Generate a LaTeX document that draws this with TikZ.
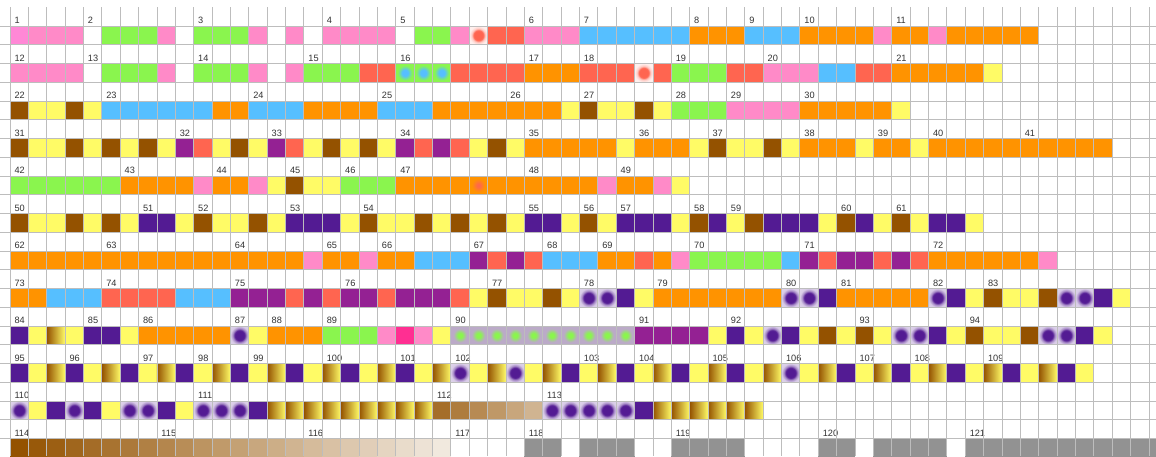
\documentclass[tikz,border=0pt]{standalone}
\usepackage{fontspec}
\setmainfont{Liberation Sans}
\definecolor{cpink}{HTML}{FF8AC8}
\definecolor{cpinkz}{HTML}{FF88D6}
\definecolor{cgreen}{HTML}{8AF54E}
\definecolor{cred}{HTML}{FF6550}
\definecolor{cblue}{HTML}{56BFFF}
\definecolor{corange}{HTML}{FF9300}
\definecolor{cyellow}{HTML}{FFFB66}
\definecolor{cbrown}{HTML}{945200}
\definecolor{cpurple}{HTML}{942193}
\definecolor{cindigo}{HTML}{531B93}
\definecolor{cgray}{HTML}{929292}
\definecolor{chot}{HTML}{FF2F92}
\definecolor{clav}{HTML}{BBAAC8}
\definecolor{ccream}{HTML}{F4EEE6}
\definecolor{gridc}{HTML}{BDBDBD}
\definecolor{labc}{HTML}{333333}
\pgfdeclareradialshading{shRd}{\pgfpoint{0bp}{0bp}}{color(0bp)=(cred); color(13bp)=(cred); color(18bp)=(cred!35!white); color(25bp)=(cred!10!white); color(50bp)=(cred!10!white)}
\pgfdeclareradialshading{shBd}{\pgfpoint{0bp}{0bp}}{color(0bp)=(cblue); color(8bp)=(cblue); color(20bp)=(cgreen); color(50bp)=(cgreen)}
\pgfdeclareradialshading{shOd}{\pgfpoint{0bp}{0bp}}{color(0bp)=(cred); color(5bp)=(cred!85!corange); color(18bp)=(corange); color(50bp)=(corange)}
\pgfdeclareradialshading{shId}{\pgfpoint{0bp}{0bp}}{color(0bp)=(cindigo); color(13bp)=(cindigo); color(19bp)=(cindigo!50!white); color(25bp)=(cindigo!22!white); color(50bp)=(cindigo!15!white)}
\pgfdeclareradialshading{shLd}{\pgfpoint{0bp}{0bp}}{color(0bp)=(cgreen); color(6bp)=(cgreen); color(18bp)=(clav); color(50bp)=(clav)}
\tikzset{
  cW/.style={},
  cP/.style={fill=cpink}, cPz/.style={fill=cpinkz},
  cG/.style={fill=cgreen}, cR/.style={fill=cred},
  cB/.style={fill=cblue}, cO/.style={fill=corange},
  cY/.style={fill=cyellow}, cBr/.style={fill=cbrown},
  cPu/.style={fill=cpurple}, cI/.style={fill=cindigo},
  cGr/.style={fill=cgray}, cH/.style={fill=chot},
  cRd/.style={shading=shRd}, cBd/.style={shading=shBd},
  cOd/.style={shading=shOd}, cId/.style={shading=shId},
  cLd/.style={shading=shLd},
  cAu/.style={left color=cbrown, right color=cyellow},
  labs/.style={anchor=base west, inner sep=0pt, text=labc, font=\fontsize{9.2}{10}\selectfont},
  gridline/.style={draw=gridc, line width=0.9pt}
}
\newcommand\cellrow[2]{%
  \foreach \s [count=\c from 0] in {#2} {
    \path[c\s] ({10+18.37*\c},{26+37.5*#1}) rectangle ({10+18.37*(\c+1)},{26+37.5*#1+18.75});
  }}
\newcommand\labrow[2]{%
  \foreach \k/\t in {#2} {
    \node[labs, name=n\t] at ({10+18.37*\k+4.3},{26+37.5*#1-2.3}) {\t};
  }}
\begin{document}
\begin{tikzpicture}[x=1pt,y=-1pt]
\useasboundingbox (0,0) rectangle (1156,456);
\fill[white] (0,0) rectangle (1156,456);
\cellrow{0}{Pz,P,P,P,W,G,G,G,P,W,G,G,G,P,W,P,W,P,P,P,P,W,G,G,P,Rd,R,R,P,P,P,B,B,B,B,B,B,O,O,O,B,B,B,O,O,O,O,P,O,O,P,O,O,O,O,O}
\cellrow{1}{P,P,P,P,W,G,G,G,P,W,G,G,G,P,W,P,G,G,G,R,R,Bd,Bd,Bd,R,R,R,R,O,O,O,R,R,R,Rd,R,G,G,G,R,R,P,P,P,B,B,R,R,O,O,O,O,O,Y}
\cellrow{2}{Br,Y,Y,Br,Y,B,B,B,B,B,B,O,O,B,B,B,O,O,O,O,B,B,B,O,O,O,O,O,O,O,Y,Br,Y,Y,Br,Y,G,G,G,P,P,P,P,O,O,O,O,O,Y}
\cellrow{3}{Br,Y,Y,Br,Y,Br,Y,Br,Y,Pu,R,Y,Br,Y,Pu,R,Y,Br,Y,Br,Y,Pu,R,Pu,R,Y,Br,Y,O,O,O,O,O,Y,O,O,O,Y,Br,Y,Y,Br,Y,O,O,O,Y,O,O,Y,O,O,O,O,O,O,O,O,O,O}
\cellrow{4}{G,G,G,G,G,G,O,O,O,O,P,O,O,P,Y,Br,Y,Y,G,G,G,O,O,O,O,Od,O,O,O,O,O,O,P,O,O,P,Y}
\cellrow{5}{Br,Y,Y,Br,Y,Br,Y,I,I,Y,Br,Y,Y,Br,Y,I,I,I,Y,Br,Y,Y,Br,Y,Br,Y,Br,Y,I,I,Y,Br,Y,I,I,I,Y,Br,I,Y,Br,I,I,I,Y,Br,I,Y,Br,Y,I,I,Y}
\cellrow{6}{O,O,O,O,O,O,O,O,O,O,O,O,O,O,O,O,P,O,O,P,O,O,B,B,B,Pu,R,Pu,R,B,B,B,O,O,R,O,P,G,G,G,G,G,B,Pu,R,Pu,Pu,R,Pu,R,O,O,O,O,O,O,P}
\cellrow{7}{O,O,B,B,B,R,R,R,R,B,B,B,Pu,Pu,Pu,R,Pu,R,Pu,Pu,R,Pu,Pu,Pu,R,Y,Br,Y,Y,Br,Y,Id,Id,I,Y,O,O,O,O,O,O,O,Id,Id,I,O,O,O,O,O,Id,I,Y,Br,Y,Y,Br,Id,Id,I,Y}
\cellrow{8}{I,Y,Au,Y,I,I,Y,O,O,O,O,O,Id,Y,O,O,O,G,G,G,P,H,P,Y,Ld,Ld,Ld,Ld,Ld,Ld,Ld,Ld,Ld,Ld,Pu,Pu,Pu,Pu,Y,I,Y,Id,I,Y,Br,Y,Br,Y,Id,Id,I,Y,Br,Y,Y,Br,Id,Id,I,Y}
\cellrow{9}{I,Y,Au,I,Y,Au,I,Y,Au,I,Y,Au,I,Y,Au,I,Y,Au,I,Y,Au,I,Y,Au,Id,Y,Au,Id,Y,Au,I,Y,Au,I,Y,Au,I,Y,Au,I,Y,Au,Id,Y,Au,I,Y,Au,I,Y,Au,I,Y,Au,I,Y,Au,I,Y}
\cellrow{10}{Id,Y,I,Id,I,Y,Id,Id,I,Y,Id,Id,Id,I,Au,Au,Au,Au,Au,Au,Au,Au,Au,W,W,W,W,W,W,Id,Id,Id,Id,Id,I,Au,Au,Au,Au,Au,Au}
\foreach \c [count=\i from 0] in {23,...,28} {
  \pgfmathsetmacro\pct{82-9*\i}
  \path[fill=cbrown!\pct!ccream] ({10+18.37*\c},{26+37.5*10}) rectangle ({10+18.37*(\c+1)},{26+37.5*10+18.75});
}
\foreach \c in {0,...,23} {
  \pgfmathsetmacro\pct{100-4.2*\c}
  \path[fill=cbrown!\pct!ccream] ({10+18.37*\c},{26+37.5*11}) rectangle ({10+18.37*(\c+1)},{26+37.5*11+18.75});
}
\cellrow{11}{W,W,W,W,W,W,W,W,W,W,W,W,W,W,W,W,W,W,W,W,W,W,W,W,W,W,W,W,Gr,Gr,W,Gr,Gr,Gr,W,W,Gr,Gr,Gr,Gr,W,W,W,W,Gr,Gr,W,Gr,Gr,Gr,Gr,W,Gr,Gr,Gr,Gr,Gr,Gr,Gr,Gr,Gr,Gr,Gr}
\labrow{0}{0/1,4/2,10/3,17/4,21/5,28/6,31/7,37/8,40/9,43/10,48/11}
\labrow{1}{0/12,4/13,10/14,16/15,21/16,28/17,31/18,36/19,41/20,48/21}
\labrow{2}{0/22,5/23,13/24,20/25,27/26,31/27,36/28,39/29,43/30}
\labrow{3}{0/31,9/32,14/33,21/34,28/35,34/36,38/37,43/38,47/39,50/40,55/41}
\labrow{4}{0/42,6/43,11/44,15/45,18/46,21/47,28/48,33/49}
\labrow{5}{0/50,7/51,10/52,15/53,19/54,28/55,31/56,33/57,37/58,39/59,45/60,48/61}
\labrow{6}{0/62,5/63,12/64,17/65,20/66,25/67,29/68,32/69,37/70,43/71,50/72}
\labrow{7}{0/73,5/74,12/75,18/76,26/77,31/78,35/79,42/80,45/81,50/82,53/83}
\labrow{8}{0/84,4/85,7/86,12/87,14/88,17/89,24/90,34/91,39/92,46/93,52/94}
\labrow{9}{0/95,3/96,7/97,10/98,13/99,17/100,21/101,24/102,31/103,34/104,38/105,42/106,46/107,49/108,53/109}
\labrow{10}{0/110,10/111,23/112,29/113}
\labrow{11}{0/114,8/115,16/116,24/117,28/118,36/119,44/120,52/121}
\foreach \k in {0,...,62} \draw[gridline] ({10+18.37*\k},7.25) -- ({10+18.37*\k},456);
\foreach \j in {1,...,24} \draw[gridline] (0,{7.25+18.75*\j}) -- (1156,{7.25+18.75*\j});
\end{tikzpicture}
\end{document}
